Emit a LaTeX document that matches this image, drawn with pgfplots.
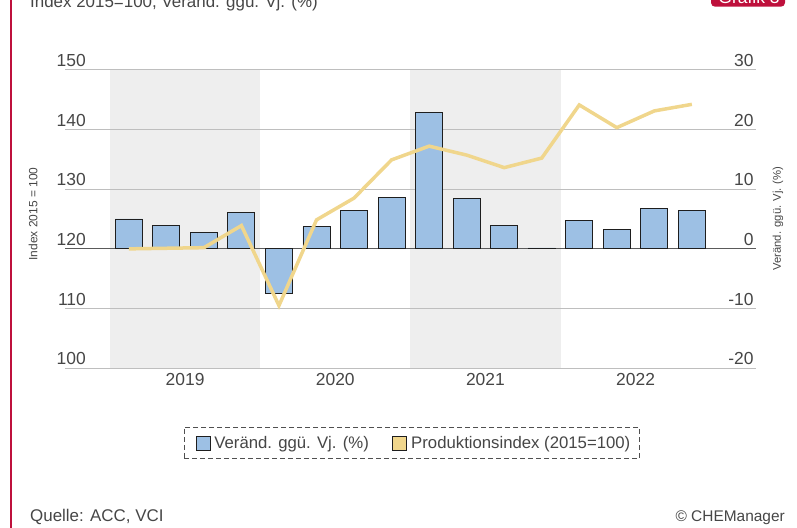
\documentclass[border=0pt]{standalone}
\usepackage{pgfplots}
\pgfplotsset{compat=1.18}
\usepackage{fontspec}
\setmainfont{Liberation Sans}
\definecolor{chemred}{RGB}{190,16,60}
\definecolor{txt}{RGB}{70,70,70}
\definecolor{bandgray}{RGB}{238,238,238}
\definecolor{gridgray}{RGB}{190,190,190}
\definecolor{zerogray}{RGB}{90,90,90}
\definecolor{barblue}{RGB}{157,192,228}
\definecolor{baredge}{RGB}{30,30,30}
\definecolor{lineyellow}{RGB}{240,214,140}
\definecolor{legborder}{RGB}{80,80,80}
\pgfplotsset{
  commonaxis/.style={
    at={(65bp,159.7bp)}, anchor=south west,
    width=690.7bp, height=298.6bp, scale only axis,
    xmin=-1.7, xmax=16.7,
  }
}
\begin{document}
\begin{tikzpicture}
\useasboundingbox (0,0) rectangle (797bp,528bp);
\clip (0,0) rectangle (797bp,528bp);
\fill[chemred] (9.8bp,0) rectangle (12.2bp,528bp);
\node[anchor=base west, inner sep=0, text=txt, font=\fontsize{17}{20}\selectfont] at (30bp,520bp) {Index 2015=100, Veränd. ggü. Vj. (\%)};
\fill[chemred, rounded corners=4bp] (711bp,521.3bp) rectangle (785bp,548bp);
\node[anchor=base, inner sep=0, text=white, font=\fontsize{17.5}{20}\selectfont] at (749bp,524.5bp) {Grafik 3};
% background bands
\begin{axis}[commonaxis, ymin=-20, ymax=30, hide axis]
\fill[bandgray] (axis cs:-0.5,-20) rectangle (axis cs:3.5,30);
\fill[bandgray] (axis cs:7.5,-20) rectangle (axis cs:11.5,30);
\end{axis}
% bars, right axis
\begin{axis}[commonaxis, ymin=-20, ymax=30,
  axis line style={draw=none}, major tick length=0pt,
  ytick={-20,-10,0,10,20,30}, yticklabels={-20,-10,0,10,20,30},
  yticklabel pos=right,
  yticklabel style={anchor=south east, inner sep=0pt, xshift=-2bp, yshift=3bp, text=txt, font=\fontsize{17.5}{20}\selectfont},
  xtick={1.5,5.5,9.5,13.5}, xticklabels={2019,2020,2021,2022},
  xticklabel style={anchor=north, inner sep=0pt, yshift=-5bp, text=txt, font=\fontsize{17.5}{20}\selectfont},
  ymajorgrids, grid style={draw=gridgray, line width=0.9bp},
  extra y ticks={0}, extra y tick labels={},
  extra y tick style={grid style={draw=zerogray, line width=1bp}},
]
\addplot[ybar, bar width=0.72, fill=barblue, draw=baredge, line width=0.9bp] coordinates {
(0,5.0) (1,3.85) (2,2.8) (3,6.1) (4,-7.5) (5,3.7) (6,6.5) (7,8.6)
(8,22.9) (9,8.5) (10,3.85) (11,0.15) (12,4.8) (13,3.3) (14,6.8) (15,6.35)};
\end{axis}
% line, left axis
\begin{axis}[commonaxis, ymin=100, ymax=150,
  axis line style={draw=none}, major tick length=0pt,
  ytick={100,110,120,130,140,150}, yticklabels={100,110,120,130,140,150},
  yticklabel style={anchor=south east, inner sep=0pt, xshift=21bp, yshift=3bp, text=txt, font=\fontsize{17.5}{20}\selectfont},
  xtick=\empty,
  legend columns=2,
  legend style={at={(axis description cs:0.502,-0.2495)}, anchor=center,
    draw=legborder, dash pattern=on 5bp off 3bp, line width=0.9bp,
    font=\fontsize{16.8}{19}\selectfont, text=txt, inner xsep=7bp, inner ysep=7bp,
    /tikz/every even column/.append style={column sep=21.5bp}},
  legend cell align=left,
]
\addlegendimage{legend image code/.code={\path (-4.4bp,0) (16bp,0); \draw[fill=barblue, draw=baredge, line width=0.9bp, solid] (0bp,-7.5bp) rectangle (14bp,6.5bp);}}
\addlegendentry{Veränd. ggü. Vj. (\%)}
\addlegendimage{legend image code/.code={\path (16bp,0); \draw[fill=lineyellow, draw=baredge, line width=0.9bp, solid] (0bp,-7.5bp) rectangle (14bp,6.5bp);}}
\addlegendentry{Produktionsindex (2015=100)}
\addplot[lineyellow, line width=3.5bp, forget plot] coordinates {
(0,120.0) (1,120.1) (2,120.2) (3,123.9) (4,110.5) (5,124.85) (6,128.5) (7,134.9)
(8,137.2) (9,135.7) (10,133.6) (11,135.2) (12,144.1) (13,140.3) (14,143.1) (15,144.2)};
\end{axis}
\node[rotate=90, text=txt, inner sep=0, font=\fontsize{12}{14}\selectfont] at (33bp,314bp) {Index 2015 = 100};
\node[rotate=90, text=txt, inner sep=0, font=\fontsize{11.3}{14}\selectfont] at (778bp,309.5bp) {Veränd. ggü. Vj. (\%)};
\node[anchor=base west, inner sep=0, text=txt, font=\fontsize{17}{19}\selectfont] at (30bp,7bp) {Quelle: ACC, VCI};
\node[anchor=base east, inner sep=0, text=txt, font=\fontsize{15.5}{19}\selectfont] at (785bp,7bp) {© CHEManager};
\end{tikzpicture}
\end{document}
